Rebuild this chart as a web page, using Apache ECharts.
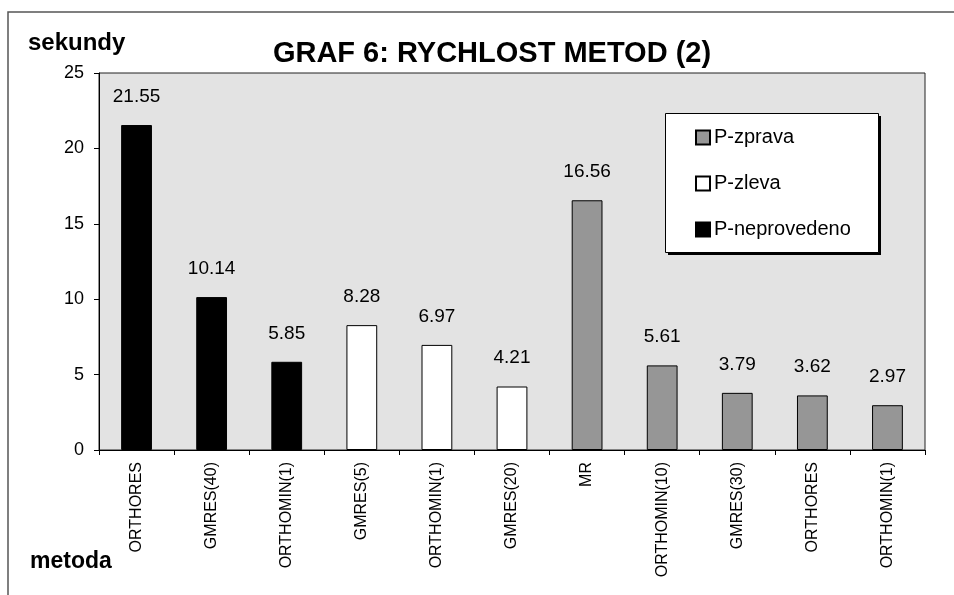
<!DOCTYPE html>
<html>
<head>
<meta charset="utf-8">
<script src="https://cdn.jsdelivr.net/npm/echarts@6/dist/echarts.min.js"></script>
<style>
  html, body { margin: 0; padding: 0; background: #fff; }
  #chart { width: 954px; height: 595px; }
</style>
</head>
<body>
<div id="chart"></div>
<script>
// metody (kategorie na ose x)
const categories = ['ORTHORES', 'GMRES(40)', 'ORTHOMIN(1)', 'GMRES(5)', 'ORTHOMIN(1)',
    'GMRES(20)', 'MR', 'ORTHOMIN(10)', 'GMRES(30)', 'ORTHORES', 'ORTHOMIN(1)'];

// doby v sekundach, '-' = metoda nepatri do skupiny
const neprovedeno = [21.55, 10.14, 5.85, '-', '-', '-', '-', '-', '-', '-', '-'];
const zleva = ['-', '-', '-', 8.28, 6.97, 4.21, '-', '-', '-', '-', '-'];
const zprava = ['-', '-', '-', '-', '-', '-', 16.56, 5.61, 3.79, 3.62, 2.97];

const yTicks = [0, 5, 10, 15, 20, 25];

const font = 'Liberation Sans, Arial, sans-serif';
const chart = echarts.init(document.getElementById('chart'));

function barSeries(name, data, color) {
    return {
        name: name,
        type: 'bar',
        stack: 'vse',
        data: data,
        barWidth: '41%',
        itemStyle: { color: color, borderColor: '#000', borderWidth: 1 },
        label: {
            show: true,
            position: 'top',
            distance: 19,
            color: '#000',
            fontFamily: font,
            fontSize: 19,
            formatter: p => p.value.toFixed(2)
        }
    };
}

const option = {
    animation: false,
    backgroundColor: '#fff',
    textStyle: { fontFamily: font },
    title: {
        text: 'GRAF 6: RYCHLOST METOD (2)',
        left: 487,
        top: 34,
        textAlign: 'center',
        textStyle: { fontFamily: font, fontSize: 29, fontWeight: 'bold', color: '#000' }
    },
    legend: {
        orient: 'vertical',
        left: 695,
        top: 127,
        data: ['P-zprava', 'P-zleva', 'P-neprovedeno'],
        icon: 'rect',
        itemWidth: 14,
        itemHeight: 14,
        itemGap: 25,
        padding: 0,
        textStyle: { fontFamily: font, fontSize: 20, lineHeight: 21, color: '#000', padding: [0, 0, 0, -1] }
    },
    grid: {
        left: 99,
        right: 29,
        top: 73,
        bottom: 145,
        show: true,
        backgroundColor: '#e3e3e3',
        borderColor: '#222',
        borderWidth: 1
    },
    xAxis: {
        type: 'category',
        data: categories,
        axisLine: { lineStyle: { color: '#000' } },
        axisTick: { show: true, length: 5, inside: false, lineStyle: { color: '#000' } },
        axisLabel: { rotate: 90, margin: 12, fontFamily: font, fontSize: 16, color: '#000', interval: 0 },
        splitLine: { show: false }
    },
    yAxis: {
        type: 'value',
        min: yTicks[0],
        max: yTicks[yTicks.length - 1],
        interval: 5,
        axisLine: { show: true, lineStyle: { color: '#000' } },
        axisTick: { show: true, length: 5, lineStyle: { color: '#000' } },
        axisLabel: { fontFamily: font, fontSize: 18, color: '#000', margin: 15 },
        splitLine: { show: false }
    },
    series: [
        barSeries('P-neprovedeno', neprovedeno, '#000'),
        barSeries('P-zleva', zleva, '#fff'),
        barSeries('P-zprava', zprava, '#969696')
    ],
    graphic: [
        {
            type: 'polyline',
            shape: { points: [[8, 595], [8, 12], [954, 12]] },
            style: { stroke: '#555', lineWidth: 1.5, fill: null }
        },
        {
            type: 'rect',
            z: 0,
            shape: { x: 668, y: 116, width: 213, height: 139 },
            style: { fill: '#000' }
        },
        {
            type: 'rect',
            z: 1,
            shape: { x: 665.5, y: 113.5, width: 213, height: 139 },
            style: { fill: '#fff', stroke: '#000', lineWidth: 1 }
        },
        {
            type: 'text',
            left: 28,
            top: 31,
            style: { text: 'sekundy', font: 'bold 24px ' + font, fill: '#000' }
        },
        {
            type: 'text',
            left: 30,
            top: 550,
            style: { text: 'metoda', font: 'bold 23px ' + font, fill: '#000' }
        }
    ]
};

chart.setOption(option);
</script>
</body>
</html>
